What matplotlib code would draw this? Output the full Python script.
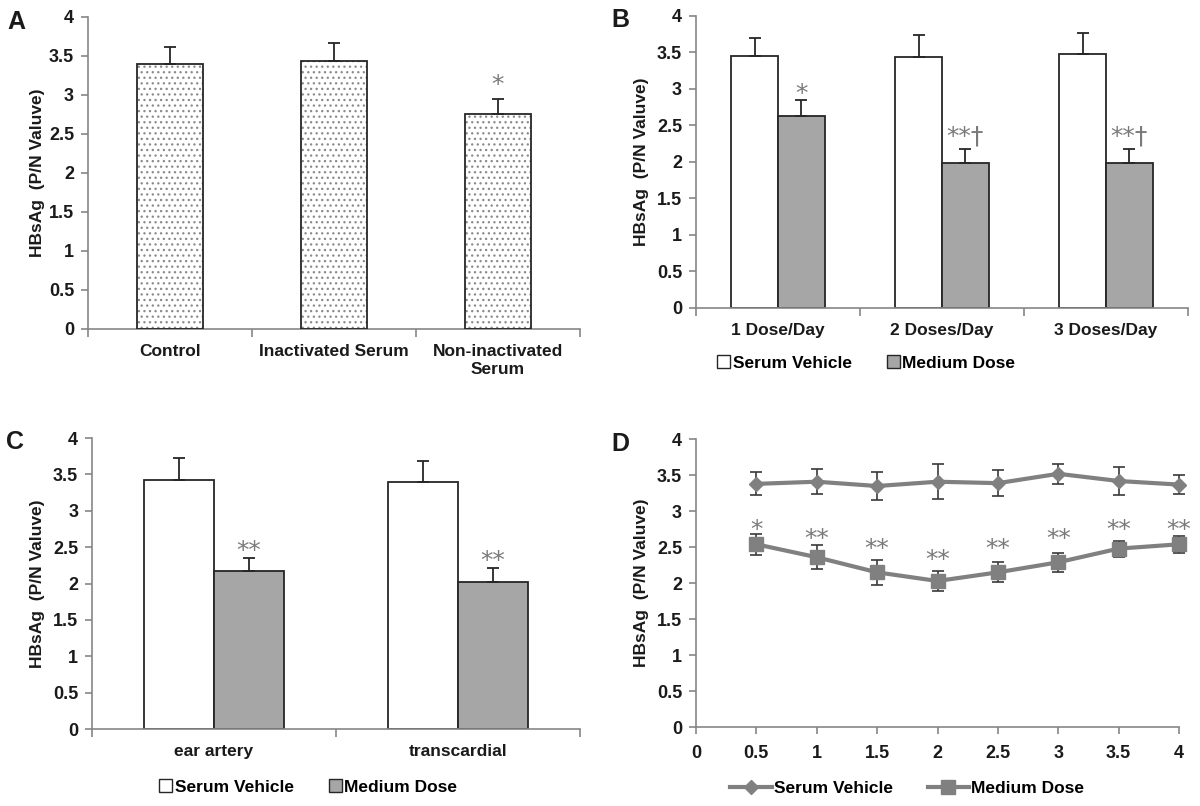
import numpy as np
import matplotlib
matplotlib.use("Agg")
import matplotlib.pyplot as plt
from matplotlib.patches import Patch
from matplotlib.lines import Line2D
from matplotlib.transforms import ScaledTranslation

plt.rcParams.update({
    "font.family": ["Liberation Sans", "DejaVu Sans"],
    "font.weight": "bold",
    "font.size": 12,
    "axes.edgecolor": "#868686",
    "axes.linewidth": 1.2,
    "xtick.color": "#868686",
    "ytick.color": "#868686",
    "xtick.labelcolor": "#1a1a1a",
    "ytick.labelcolor": "#1a1a1a",
    "hatch.linewidth": 0.9,
})

# ── Data ────────────────────────────────────────────────────────────────────
a_labels = ["Control", "Inactivated Serum", "Non-inactivated\nSerum"]
a_means = [3.40, 3.43, 2.75]
a_err = [0.21, 0.24, 0.20]
a_marks = ["", "", "*"]
a_mark_y = [0, 0, 3.16]

b_labels = ["1 Dose/Day", "2 Doses/Day", "3 Doses/Day"]
b_vehicle = [3.45, 3.43, 3.48]
b_vehicle_err = [0.25, 0.30, 0.29]
b_medium = [2.63, 1.98, 1.98]
b_medium_err = [0.21, 0.19, 0.20]
b_marks = ["*", "**†", "**†"]
b_mark_y = [2.97, 2.39, 2.39]

c_labels = ["ear artery", "transcardial"]
c_vehicle = [3.42, 3.39]
c_vehicle_err = [0.31, 0.29]
c_medium = [2.17, 2.02]
c_medium_err = [0.18, 0.20]
c_marks = ["**", "**"]
c_mark_y = [2.49, 2.35]

d_x = [0.5, 1.0, 1.5, 2.0, 2.5, 3.0, 3.5, 4.0]
d_vehicle = [3.38, 3.41, 3.35, 3.41, 3.39, 3.52, 3.42, 3.37]
d_vehicle_err = [0.16, 0.17, 0.20, 0.24, 0.18, 0.14, 0.19, 0.13]
d_medium = [2.54, 2.36, 2.15, 2.03, 2.15, 2.29, 2.48, 2.54]
d_medium_err = [0.15, 0.17, 0.17, 0.14, 0.14, 0.13, 0.11, 0.12]
d_marks = ["*", "**", "**", "**", "**", "**", "**", "**"]
d_mark_y = [2.78, 2.65, 2.51, 2.37, 2.51, 2.65, 2.78, 2.78]

VEH_COLOR = "white"
MED_COLOR = "#a6a6a6"
EDGE = "#262626"
LINE_GRAY = "#808080"
STAR_GRAY = "#7a7a7a"
YLABEL = "HBsAg  (P/N Valuve)"
TICKS_Y = ["0", "0.5", "1", "1.5", "2", "2.5", "3", "3.5", "4"]

fig = plt.figure(figsize=(12, 8.06), dpi=100)
# glyph of '*' sits high in its box: shift text down so its centre hits y
star_shift = ScaledTranslation(0, -15 / 100, fig.dpi_scale_trans)


def style_axis(ax, letter, ylab_x, letter_x):
    for s in ("top", "right"):
        ax.spines[s].set_visible(False)
    ax.set_ylim(0, 4)
    ax.set_yticks(np.arange(0, 4.01, 0.5))
    ax.set_yticklabels(TICKS_Y, fontsize=13)
    ax.tick_params(axis="y", direction="out", length=5, width=1.2, pad=5)
    ax.set_ylabel(YLABEL, fontsize=12.5, fontweight="bold", color="#1a1a1a")
    ax.yaxis.set_label_coords(ylab_x, 0.5)
    ax.text(letter_x, 0.985, letter, transform=ax.transAxes,
            fontsize=18, fontweight="bold", ha="center", va="center", color="#1a1a1a")


def category_axis(ax, labels):
    n = len(labels)
    ax.set_xlim(-0.5, n - 0.5)
    ax.set_xticks(range(n))
    ax.set_xticklabels(labels, fontsize=12.5, color="#1a1a1a", linespacing=1.25)
    ax.tick_params(axis="x", which="major", length=0, pad=11)
    ax.set_xticks(np.arange(-0.5, n, 1.0), minor=True)
    ax.tick_params(axis="x", which="minor", direction="out", length=6, width=1.2)


def star(ax, x, y, s):
    if s:
        ax.text(x, y, s, ha="center", va="bottom", fontsize=18,
                color=STAR_GRAY, family="DejaVu Sans", fontweight="normal",
                transform=ax.transData + star_shift)


# ── Panel A ────────────────────────────────────────────────────────────────
axA = fig.add_axes([0.0733, 0.592, 0.41, 0.387])
xa = np.arange(len(a_labels))
axA.bar(xa, a_means, width=0.4, color="white", edgecolor="#8a8a8a",
        hatch="...", linewidth=0, zorder=2)
axA.bar(xa, a_means, width=0.4, fill=False, edgecolor=EDGE, linewidth=1.3, zorder=3)
axA.errorbar(xa, a_means, yerr=[np.zeros(len(a_err)), a_err], fmt="none",
             ecolor=EDGE, elinewidth=1.3, capsize=4, capthick=1.3, zorder=4)
for x, y, s in zip(xa, a_mark_y, a_marks):
    star(axA, x, y, s)
style_axis(axA, "A", -0.087, -0.146)
category_axis(axA, a_labels)


def grouped(ax, labels, veh, veh_err, med, med_err, marks, mark_y):
    x = np.arange(len(labels))
    w = 1 / 3.5
    axv = x - w / 2
    axm = x + w / 2
    ax.bar(axv, veh, width=w, color=VEH_COLOR, edgecolor=EDGE, linewidth=1.3, zorder=2)
    ax.bar(axm, med, width=w, color=MED_COLOR, edgecolor=EDGE, linewidth=1.3, zorder=2)
    ax.errorbar(axv, veh, yerr=[np.zeros(len(veh)), veh_err], fmt="none",
                ecolor=EDGE, elinewidth=1.3, capsize=4, capthick=1.3, zorder=3)
    ax.errorbar(axm, med, yerr=[np.zeros(len(med)), med_err], fmt="none",
                ecolor=EDGE, elinewidth=1.3, capsize=4, capthick=1.3, zorder=3)
    for xi, y, s in zip(axm, mark_y, marks):
        star(ax, xi, y, s)
    category_axis(ax, labels)


def bar_legend(ax, cx, cy):
    handles = [Patch(facecolor=VEH_COLOR, edgecolor=EDGE, linewidth=1.0),
               Patch(facecolor=MED_COLOR, edgecolor=EDGE, linewidth=1.0)]
    ax.legend(handles, ["Serum Vehicle", "Medium Dose"], loc="center",
              bbox_to_anchor=(cx, cy), bbox_transform=fig.transFigure,
              ncol=2, frameon=False, fontsize=12.5, handlelength=0.75,
              handleheight=0.75, handletextpad=0.15, columnspacing=2.0)


# ── Panel B ────────────────────────────────────────────────────────────────
axB = fig.add_axes([0.58, 0.618, 0.41, 0.3625])
grouped(axB, b_labels, b_vehicle, b_vehicle_err, b_medium, b_medium_err, b_marks, b_mark_y)
style_axis(axB, "B", -0.095, -0.154)
bar_legend(axB, 0.722, 1 - 363 / 806)

# ── Panel C ────────────────────────────────────────────────────────────────
axC = fig.add_axes([0.0767, 0.0955, 0.4067, 0.361])
grouped(axC, c_labels, c_vehicle, c_vehicle_err, c_medium, c_medium_err, c_marks, c_mark_y)
style_axis(axC, "C", -0.096, -0.158)
bar_legend(axC, 0.257, 1 - 787 / 806)

# ── Panel D ────────────────────────────────────────────────────────────────
axD = fig.add_axes([0.58, 0.098, 0.4025, 0.357])
axD.errorbar(d_x, d_vehicle, yerr=d_vehicle_err, color=LINE_GRAY, linewidth=3,
             marker="D", markersize=7, ecolor="#3a3a3a", elinewidth=1.2,
             capsize=4, capthick=1.2, clip_on=False, zorder=3)
axD.errorbar(d_x, d_medium, yerr=d_medium_err, color=LINE_GRAY, linewidth=3,
             marker="s", markersize=10, ecolor="#3a3a3a", elinewidth=1.2,
             capsize=4, capthick=1.2, clip_on=False, zorder=3)
for x, y, s in zip(d_x, d_mark_y, d_marks):
    star(axD, x, y, s)
axD.set_xlim(0, 4)
axD.set_xticks(np.arange(0, 4.01, 0.5))
axD.set_xticklabels(TICKS_Y, fontsize=13)
axD.tick_params(axis="x", direction="out", length=5, width=1.2, pad=8)
style_axis(axD, "D", -0.097, -0.157)
d_handles = [Line2D([], [], color=LINE_GRAY, linewidth=3, marker="D", markersize=7),
             Line2D([], [], color=LINE_GRAY, linewidth=3, marker="s", markersize=10)]
axD.legend(d_handles, ["Serum Vehicle", "Medium Dose"], loc="center",
           bbox_to_anchor=(0.756, 1 - 788 / 806), bbox_transform=fig.transFigure,
           ncol=2, frameon=False, fontsize=12.5, handlelength=2.4,
           handletextpad=0.1, columnspacing=2.0)

fig.savefig("out.png", dpi=100, facecolor="white")
